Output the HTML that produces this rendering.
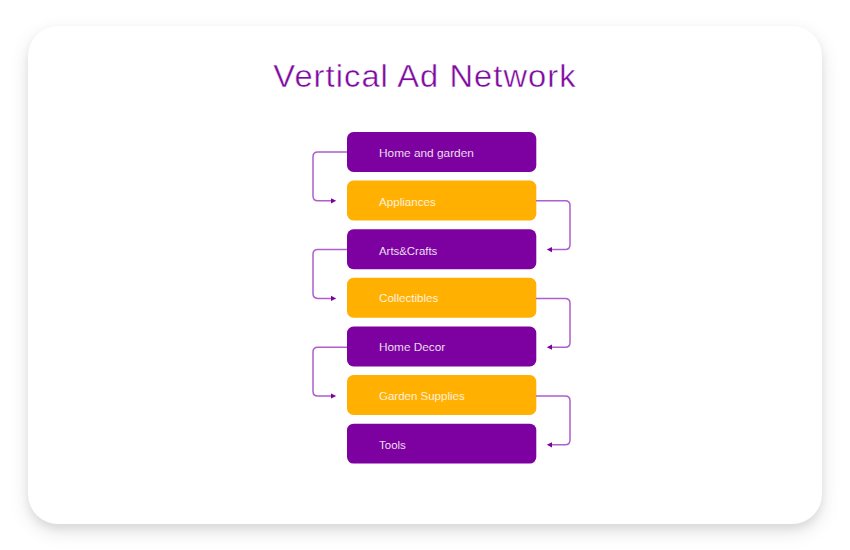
<!DOCTYPE html>
<html><head><meta charset="utf-8">
<style>
html,body{margin:0;padding:0;width:850px;height:550px;overflow:hidden;background:#ffffff;}
body{position:relative;font-family:"Liberation Sans",sans-serif;}
.card{position:absolute;left:28px;top:26px;width:794px;height:498px;background:#fff;border-radius:30px;box-shadow:0 5px 8px rgba(0,0,0,0.07),0 7px 20px rgba(0,0,0,0.11);}
.title{position:absolute;left:0;top:56.3px;width:850px;text-align:center;font-size:30.5px;color:#7e0aa0;line-height:40px;white-space:nowrap;transform:scaleX(1.07);letter-spacing:1px;-webkit-text-stroke:0.4px #fff;}
.t{position:absolute;left:379px;font-size:10px;color:#ffffff;line-height:14px;white-space:nowrap;transform-origin:0 0;}
svg{position:absolute;left:0;top:0;}
</style></head><body>
<div class="card"></div>
<div class="title">Vertical Ad Network</div>
<svg width="850" height="550" viewBox="0 0 850 550">
<rect x="347" y="132.00" width="189.3" height="39.9" rx="6.5" fill="#7d00a0"/>
<rect x="347" y="180.62" width="189.3" height="39.9" rx="6.5" fill="#ffb000"/>
<rect x="347" y="229.24" width="189.3" height="39.9" rx="6.5" fill="#7d00a0"/>
<rect x="347" y="277.86" width="189.3" height="39.9" rx="6.5" fill="#ffb000"/>
<rect x="347" y="326.48" width="189.3" height="39.9" rx="6.5" fill="#7d00a0"/>
<rect x="347" y="375.10" width="189.3" height="39.9" rx="6.5" fill="#ffb000"/>
<rect x="347" y="423.72" width="189.3" height="39.9" rx="6.5" fill="#7d00a0"/>
<g fill="none" stroke="#ad5fcc" stroke-width="1.5">
<path d="M347 152.00 H317.8 Q313 152.00 313 156.80 V196.00 Q313 200.80 317.8 200.80 H332"/>
<path d="M536 200.80 H565.2 Q570 200.80 570 205.60 V244.80 Q570 249.60 565.2 249.60 H551"/>
<path d="M347 249.60 H317.8 Q313 249.60 313 254.40 V293.60 Q313 298.40 317.8 298.40 H332"/>
<path d="M536 298.40 H565.2 Q570 298.40 570 303.20 V342.40 Q570 347.20 565.2 347.20 H551"/>
<path d="M347 347.20 H317.8 Q313 347.20 313 352.00 V391.20 Q313 396.00 317.8 396.00 H332"/>
<path d="M536 396.00 H565.2 Q570 396.00 570 400.80 V440.00 Q570 444.80 565.2 444.80 H551"/>
</g>
<g fill="#7d00a0">
<path d="M336.2 200.80 L331 198.20 L331 203.40 Z"/>
<path d="M546.8 249.60 L552 247.00 L552 252.20 Z"/>
<path d="M336.2 298.40 L331 295.80 L331 301.00 Z"/>
<path d="M546.8 347.20 L552 344.60 L552 349.80 Z"/>
<path d="M336.2 396.00 L331 393.40 L331 398.60 Z"/>
<path d="M546.8 444.80 L552 442.20 L552 447.40 Z"/>
</g>
</svg>
<div class="t" style="top:146.6px;transform:scaleX(1.185);-webkit-text-stroke:0.15px #7d00a0">Home and garden</div>
<div class="t" style="top:196.2px;transform:scaleX(1.16);-webkit-text-stroke:0.15px #ffb000">Appliances</div>
<div class="t" style="top:244.6px;transform:scaleX(1.14);-webkit-text-stroke:0.15px #7d00a0">Arts&amp;Crafts</div>
<div class="t" style="top:291.9px;transform:scaleX(1.16);-webkit-text-stroke:0.15px #ffb000">Collectibles</div>
<div class="t" style="top:340.7px;transform:scaleX(1.18);-webkit-text-stroke:0.15px #7d00a0">Home Decor</div>
<div class="t" style="top:389.5px;transform:scaleX(1.15);-webkit-text-stroke:0.15px #ffb000">Garden Supplies</div>
<div class="t" style="top:439.3px;transform:scaleX(1.15);-webkit-text-stroke:0.15px #7d00a0">Tools</div>
</body></html>
